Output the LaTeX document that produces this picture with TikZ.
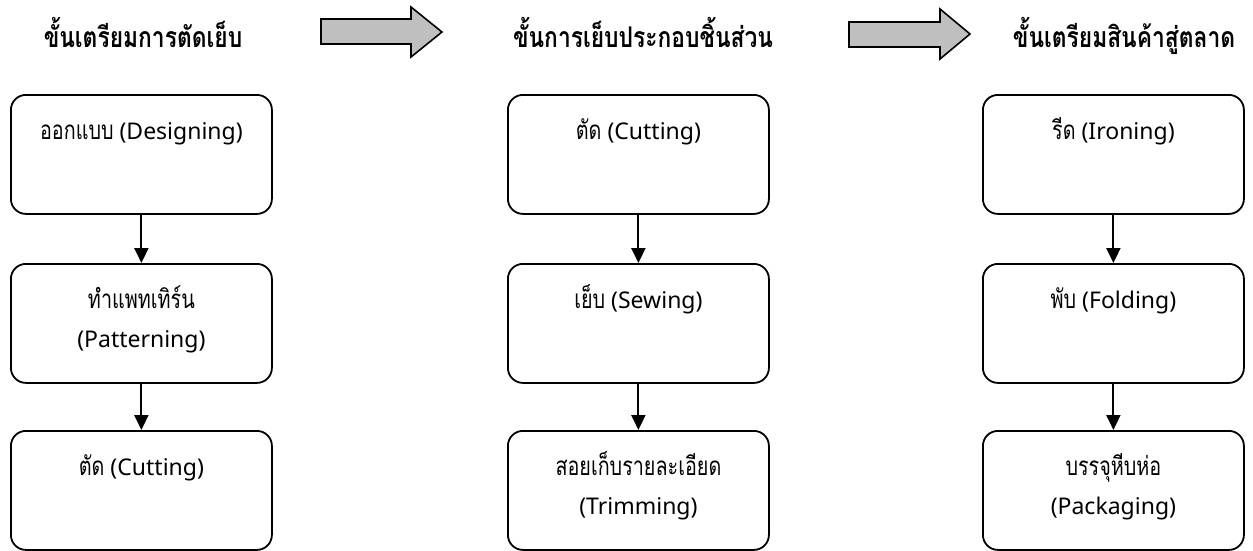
\documentclass[tikz,border=0pt]{standalone}
\usepackage{fontspec}
\usetikzlibrary{arrows.meta}
\setmainfont{Noto Sans}
\newfontfamily\thai[Script=Thai,FakeStretch=0.76]{Loma}
\newfontfamily\thaib[Script=Thai,FakeStretch=0.8]{Loma Bold}
\newcommand{\Th}[1]{{\fontsize{26}{30}\thai #1}}
\begin{document}
\begin{tikzpicture}[x=1pt,y=-1pt,
  box/.style={draw=black,line width=1.8pt,rounded corners=15pt,minimum width=261pt,minimum height=119pt,inner sep=0pt,anchor=north west},
  txt/.style={inner sep=0pt,anchor=base,font=\fontsize{23}{26}\selectfont},
  ttl/.style={inner sep=0pt,anchor=base,font=\fontsize{28.5}{34}\selectfont\thaib},
  conn/.style={line width=2pt,-{Triangle[width=14pt,length=15pt]}},
  blk/.style={draw=black,line width=1.6pt,fill=black!25,line join=miter}]
\useasboundingbox (0,0) rectangle (1253,550);
% titles
\node[ttl] (h1) at (143,47) {ขั้นเตรียมการตัดเย็บ};
\node[ttl] (h2) at (643,47) {ขั้นการเย็บประกอบชิ้นส่วน};
\node[ttl] (h3) at (1124,47) {ขั้นเตรียมสินค้าสู่ตลาด};
% block arrows
\draw[blk] (321,19) -- (411,19) -- (411,7) -- (442,32) -- (411,57) -- (411,44) -- (321,44) -- cycle;
\draw[blk] (849,22) -- (940,22) -- (940,9) -- (970,34) -- (940,59) -- (940,47) -- (849,47) -- cycle;
% boxes
\foreach \c/\x in {a/10,b/507,c/982}{
  \node[box] (\c1) at (\x,94) {};
  \node[box] (\c2) at (\x,263) {};
  \node[box] (\c3) at (\x,430) {};
  \draw[conn] (\c1.south) -- (\c2.north);
  \draw[conn] (\c2.south) -- (\c3.north);
}
% texts column 1
\node[txt] (ta1) at ([yshift=-45pt]a1.north) {\Th{ออกแบบ} (Designing)};
\node[txt] (ta2) at ([yshift=-45pt]a2.north) {\Th{ทำแพทเทิร์น}};
\node[txt] (ta2b) at ([yshift=-39pt]ta2.base) {(Patterning)};
\node[txt] (ta3) at ([yshift=-45pt]a3.north) {\Th{ตัด} (Cutting)};
% column 2
\node[txt] (tb1) at ([yshift=-45pt]b1.north) {\Th{ตัด} (Cutting)};
\node[txt] (tb2) at ([yshift=-45pt]b2.north) {\Th{เย็บ} (Sewing)};
\node[txt] (tb3) at ([yshift=-45pt]b3.north) {\Th{สอยเก็บรายละเอียด}};
\node[txt] (tb3b) at ([yshift=-39pt]tb3.base) {(Trimming)};
% column 3
\node[txt] (tc1) at ([yshift=-45pt]c1.north) {\Th{รีด} (Ironing)};
\node[txt] (tc2) at ([yshift=-45pt]c2.north) {\Th{พับ} (Folding)};
\node[txt] (tc3) at ([yshift=-45pt]c3.north) {\Th{บรรจุหีบห่อ}};
\node[txt] (tc3b) at ([yshift=-39pt]tc3.base) {(Packaging)};
\end{tikzpicture}
\end{document}
